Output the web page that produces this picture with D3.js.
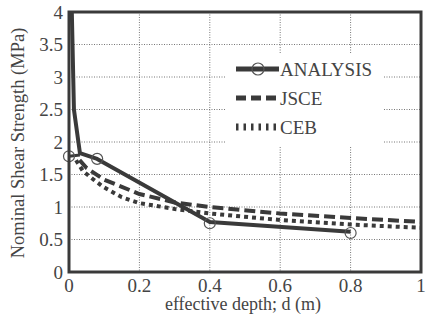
<!DOCTYPE html>
<html>
<head>
<meta charset="utf-8">
<script src="https://d3js.org/d3.v7.min.js"></script>
<style>
  body { margin: 0; background: #fff; }
</style>
</head>
<body>
<div id="chart"></div>
<script>
// values
var xTicks = [0, 0.2, 0.4, 0.6, 0.8, 1];
var yTicks = [0, 0.5, 1, 1.5, 2, 2.5, 3, 3.5, 4];

var analysisLine = [[0.008, 4.0], [0.014, 2.5], [0.031, 1.83], [0.08, 1.74], [0.4, 0.77], [0.8, 0.62]];
var analysisStub = [[0.0, 1.78], [0.031, 1.8]];
var analysisMarks = [[0.0, 1.78], [0.08, 1.74], [0.4, 0.75], [0.8, 0.6]];
var jsce = [[0.03, 1.72], [0.05, 1.6], [0.1, 1.42], [0.2, 1.2], [0.3, 1.07], [0.4, 1.0], [0.6, 0.9], [0.8, 0.83], [1.0, 0.77]];
var ceb = [[0.02, 1.72], [0.04, 1.55], [0.07, 1.42], [0.1, 1.3], [0.15, 1.15], [0.2, 1.06], [0.3, 0.97], [0.4, 0.9], [0.6, 0.8], [0.8, 0.73], [1.0, 0.68]];

var width = 428, height = 322;
var pL = 69, pR = 421, pT = 12, pB = 272;
var ink = "#3a3a3a";
var fontName = "'Liberation Serif'";

var svg = d3.select("#chart").append("svg")
  .attr("width", width).attr("height", height);

var x = d3.scaleLinear().domain([0, 1]).range([pL, pR]);
var y = d3.scaleLinear().domain([0, 4]).range([pB, pT]);

// grid
svg.append("g").selectAll("line").data(xTicks.slice(1, -1)).enter().append("line")
  .attr("x1", d => x(d)).attr("x2", d => x(d))
  .attr("y1", pT).attr("y2", pB)
  .attr("stroke", "#777").attr("stroke-width", 1).attr("stroke-dasharray", "1,1.5");
svg.append("g").selectAll("line").data(yTicks.slice(1, -1)).enter().append("line")
  .attr("x1", pL).attr("x2", pR)
  .attr("y1", d => y(d)).attr("y2", d => y(d))
  .attr("stroke", "#777").attr("stroke-width", 1).attr("stroke-dasharray", "1,1.5");

// legend background hides grid
svg.append("rect").attr("x", 226).attr("y", 53).attr("width", 158).attr("height", 94).attr("fill", "#fff");

// axes labels
svg.append("g").selectAll("text").data(yTicks).enter().append("text")
  .attr("x", pL - 6).attr("y", d => y(d)).attr("dy", "0.35em")
  .attr("text-anchor", "end").attr("font-size", 19).attr("fill", "#444")
  .attr("font-family", fontName)
  .text(d => d);
svg.append("g").selectAll("text").data(xTicks).enter().append("text")
  .attr("x", d => x(d)).attr("y", pB + 20)
  .attr("text-anchor", "middle").attr("font-size", 19).attr("fill", "#444")
  .attr("font-family", fontName)
  .text(d => d);

svg.append("text")
  .attr("x", (pL + pR) / 2 - 2).attr("y", 310)
  .attr("text-anchor", "middle").attr("font-size", 18).attr("fill", "#444")
  .attr("font-family", fontName)
  .text("effective depth; d (m)");
svg.append("text")
  .attr("transform", "translate(24," + ((pT + pB) / 2 + 1) + ") rotate(-90)")
  .attr("text-anchor", "middle").attr("font-size", 18.5).attr("fill", "#444")
  .attr("font-family", fontName)
  .text("Nominal Shear Strength (MPa)");

var line = d3.line().x(d => x(d[0])).y(d => y(d[1]));

// series
svg.append("path").datum(ceb).attr("d", line)
  .attr("fill", "none").attr("stroke", ink).attr("stroke-width", 4).attr("stroke-dasharray", "4,4");
svg.append("path").datum(jsce).attr("d", line)
  .attr("fill", "none").attr("stroke", ink).attr("stroke-width", 4).attr("stroke-dasharray", "11,5");
svg.append("path").datum(analysisLine).attr("d", line)
  .attr("fill", "none").attr("stroke", ink).attr("stroke-width", 4).attr("stroke-linejoin", "round");
svg.append("path").datum(analysisStub).attr("d", line)
  .attr("fill", "none").attr("stroke", ink).attr("stroke-width", 3);
svg.append("g").selectAll("circle").data(analysisMarks).enter().append("circle")
  .attr("cx", d => x(d[0])).attr("cy", d => y(d[1])).attr("r", 5.5)
  .attr("fill", "none").attr("stroke", "#555").attr("stroke-width", 1.2);

// frame
svg.append("rect").attr("x", pL).attr("y", pT).attr("width", pR - pL).attr("height", pB - pT)
  .attr("fill", "none").attr("stroke", ink).attr("stroke-width", 3);

// legend
var legend = [
  { name: "ANALYSIS", dash: null, width: 5, marker: true },
  { name: "JSCE", dash: "10,5", width: 5 },
  { name: "CEB", dash: "2.5,5", width: 7 }
];
var lg = svg.append("g").selectAll("g").data(legend).enter().append("g")
  .attr("transform", (d, i) => "translate(0," + (69 + i * 29) + ")");
lg.append("line").attr("x1", 236).attr("x2", 279).attr("y1", 0).attr("y2", 0)
  .attr("stroke", ink).attr("stroke-width", d => d.width)
  .attr("stroke-dasharray", d => d.dash);
lg.filter(d => d.marker).append("circle").attr("cx", 258).attr("cy", 0).attr("r", 6)
  .attr("fill", "none").attr("stroke", "#555").attr("stroke-width", 1.2);
lg.append("text").attr("x", 280).attr("y", 0).attr("dy", "0.35em")
  .attr("font-size", 19).attr("fill", "#444")
  .attr("font-family", fontName)
  .text(d => d.name);
</script>
</body>
</html>
